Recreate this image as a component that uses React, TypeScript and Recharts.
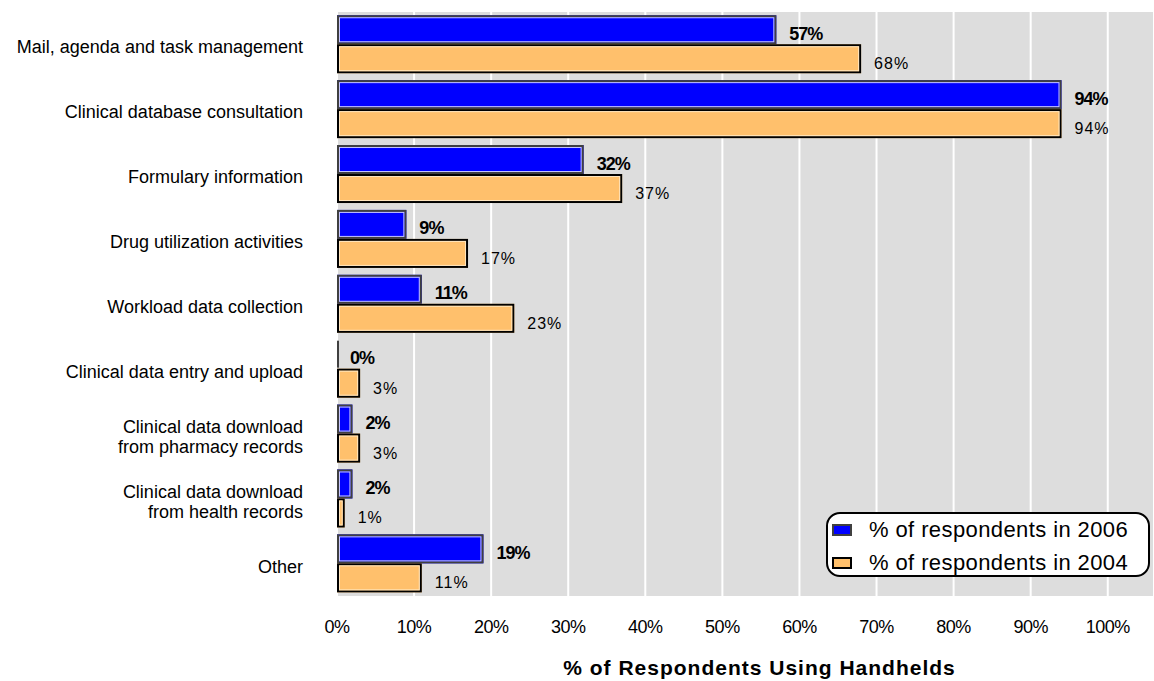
import { BarChart, Bar, XAxis, YAxis, CartesianGrid, Legend, LabelList } from "recharts";

const categories = [
  "Mail, agenda and task management",
  "Clinical database consultation",
  "Formulary information",
  "Drug utilization activities",
  "Workload data collection",
  "Clinical data entry and upload",
  "Clinical data download\nfrom pharmacy records",
  "Clinical data download\nfrom health records",
  "Other",
];
const values2006 = [57, 94, 32, 9, 11, 0, 2, 2, 19];
const values2004 = [68, 94, 37, 17, 23, 3, 3, 1, 11];
const xTicks = [0, 10, 20, 30, 40, 50, 60, 70, 80, 90, 100];

const data = categories.map((name, i) => ({ name, y2006: values2006[i], y2004: values2004[i] }));

const FONT = "'Liberation Sans', Arial, Helvetica, sans-serif";
const BLUE = "#0000FF";
const ORANGE = "#FFC06C";

const makeShape = (fill: string, edge: string, light: string) => (props: any) => {
  const { x, y, width, height } = props;
  if (width < 4) {
    return <rect x={x} y={y + 1} width={2} height={height - 2} fill={edge} />;
  }
  return (
    <g>
      <rect x={x} y={y} width={width} height={height} fill={fill} />
      <rect x={x + 1} y={y + 1} width={width - 2} height={height - 2} fill="none" stroke={edge} strokeWidth={2} />
      <rect x={x + 2.5} y={y + 2.5} width={width - 5} height={height - 5} fill="none" stroke={light} strokeWidth={1} />
    </g>
  );
};

const BlueBar = makeShape(BLUE, "#404040", "#C8C8FF");
const OrangeBar = makeShape(ORANGE, "#000000", "#FFE6C0");

const CategoryTick = ({ x, y, payload }: any) => {
  const lines = String(payload.value).split("\n");
  const lh = 20;
  const start = y + 3 - ((lines.length - 1) * lh) / 2;
  return (
    <text x={x} y={start} textAnchor="end" fontSize={18} fill="#000" fontFamily={FONT} dominantBaseline="central">
      {lines.map((l, i) => (
        <tspan key={i} x={x} y={start + i * lh}>{l}</tspan>
      ))}
    </text>
  );
};

const PercentTick = ({ x, y, payload }: any) => (
  <text x={x} y={y + 31} textAnchor="middle" fontSize={18} letterSpacing={-0.5} fill="#000" fontFamily={FONT} dominantBaseline="central">
    {payload.value}%
  </text>
);

const valueLabel = (bold: boolean) => (props: any) => {
  const { x, y, width, height, value } = props;
  return (
    <text
      x={x + width + 13}
      y={y + height / 2 + (bold ? 4 : 5)}
      fontSize={bold ? 18 : 16}
      fontWeight={bold ? "bold" : "normal"}
      letterSpacing={bold ? -1 : 1}
      fill="#000"
      fontFamily={FONT}
      dominantBaseline="central"
    >
      {value}%
    </text>
  );
};

const AxisTitle = ({ viewBox }: any) => (
  <text x={viewBox.x + viewBox.width / 2 + 14} y={667} textAnchor="middle" fontSize={21} fontWeight="bold" letterSpacing={1} fill="#000" fontFamily={FONT} dominantBaseline="central">
    % of Respondents Using Handhelds
  </text>
);

const LegendBox = () => (
  <div style={{ width: 320, height: 61, border: "2px solid #000", borderRadius: 14, background: "#fff", fontFamily: FONT, fontSize: 22, letterSpacing: 0.4, color: "#000", boxSizing: "content-box" }}>
    {[{ label: "% of respondents in 2006", fill: BLUE, edge: "#404040" }, { label: "% of respondents in 2004", fill: ORANGE, edge: "#000" }].map((it, i) => (
      <div key={i} style={{ display: "flex", alignItems: "center", height: 33, marginTop: i === 0 ? -1 : 0 }}>
        <div style={{ width: 16, height: 8, marginLeft: 4, background: it.fill, border: `2px solid ${it.edge}` }} />
        <span style={{ marginLeft: 17, lineHeight: "33px" }}>{it.label}</span>
      </div>
    ))}
  </div>
);

export default function App() {
  return (
    <div style={{ position: "absolute", left: 0, top: 0, width: 1154, height: 681, background: "#fff" }}>
      <BarChart
        width={1154}
        height={681}
        data={data}
        layout="vertical"
        margin={{ top: 12, right: 0, bottom: 0, left: 0 }}
        barCategoryGap="5%"
        barGap={0}
      >
        <CartesianGrid horizontal={false} fill="#DDDDDD" stroke="#FFFFFF" strokeWidth={2} />
        <XAxis
          type="number"
          domain={[0, 106]}
          ticks={xTicks}
          axisLine={false}
          tickLine={false}
          tickSize={0}
          tickMargin={0}
          height={85}
          tick={<PercentTick />}
          label={<AxisTitle />}
        />
        <YAxis
          type="category"
          dataKey="name"
          width={337}
          axisLine={false}
          tickLine={false}
          tickSize={0}
          tickMargin={34}
          interval={0}
          tick={<CategoryTick />}
        />
        <Legend
          layout="vertical"
          align="center"
          verticalAlign="middle"
          content={<LegendBox />}
          wrapperStyle={{ position: "absolute", left: 826, top: 512, width: "auto" }}
        />
        <Bar dataKey="y2006" shape={BlueBar} isAnimationActive={false}>
          <LabelList dataKey="y2006" content={valueLabel(true)} />
        </Bar>
        <Bar dataKey="y2004" shape={OrangeBar} isAnimationActive={false}>
          <LabelList dataKey="y2004" content={valueLabel(false)} />
        </Bar>
      </BarChart>
    </div>
  );
}
